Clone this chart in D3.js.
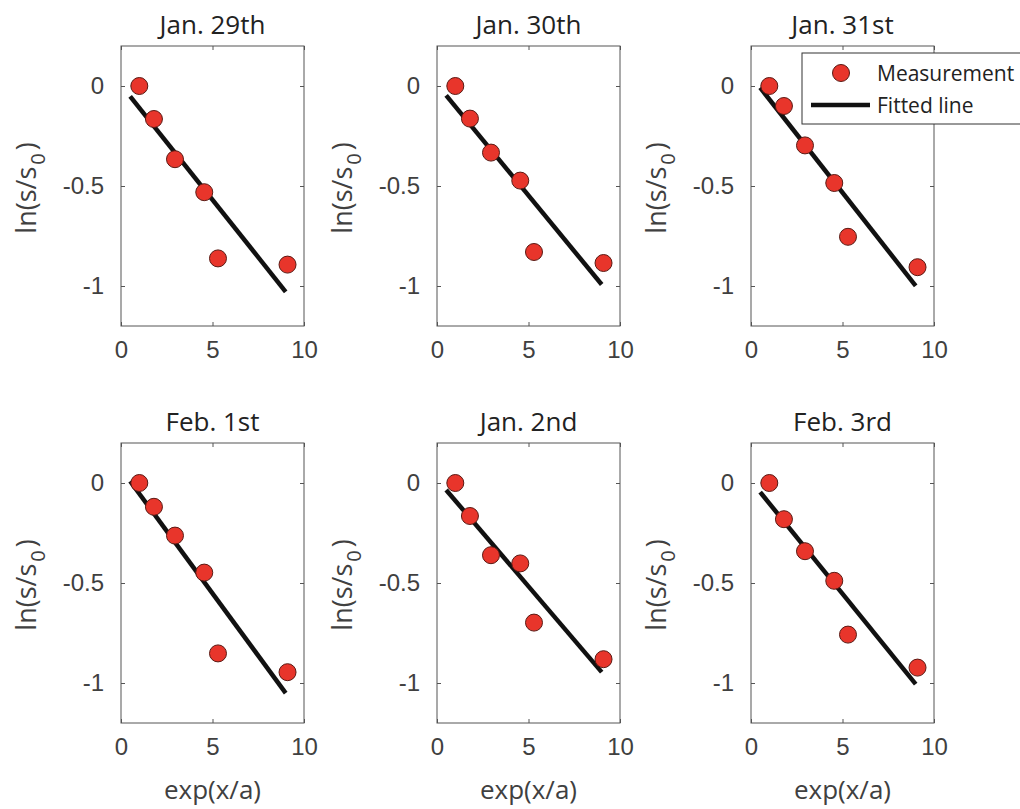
<!DOCTYPE html>
<html>
<head>
<meta charset="utf-8">
<title>ln(s/s0) vs exp(x/a)</title>
<script src="https://cdn.jsdelivr.net/npm/d3@7"></script>
<style>
body { margin: 0; background: #fff; }
svg { font-family: "Open Sans", sans-serif; }
.tick text { fill: #404040; font-size: 24px; }
.tick line { stroke: #555; }
</style>
</head>
<body>
<svg id="chart"></svg>
<script>
// panel titles (as printed)
var titles = ["Jan. 29th", "Jan. 30th", "Jan. 31st", "Feb. 1st", "Jan. 2nd", "Feb. 3rd"];

// measurement x positions, exp(x/a), same for every day
var xMeas = [1.0, 1.8, 2.95, 4.55, 5.3, 9.1];

// measured ln(s/s0), one row per panel
var yMeas = [
	[0, -0.165, -0.366, -0.531, -0.862, -0.893],
	[0, -0.163, -0.333, -0.473, -0.830, -0.885],
	[0, -0.100, -0.297, -0.485, -0.754, -0.906],
	[0, -0.119, -0.263, -0.448, -0.852, -0.946],
	[0, -0.165, -0.361, -0.402, -0.698, -0.881],
	[0, -0.181, -0.341, -0.489, -0.758, -0.923]
];

// fitted lines y = a*x + b
var fitSlope = [-0.1150, -0.1113, -0.1166, -0.1246, -0.1072, -0.1130];
var fitIntercept = [0.006, 0.009, 0.050, 0.071, 0.019, 0.011];
var fitRange = [0.5, 9.0];

var xTicks = [0, 5, 10];
var yTicks = [0, -0.5, -1];

var w = 1020, h = 809;
var boxW = 183, boxH = 280;
var colX = [121, 437, 751];
var rowY = [46, 443];

var svg = d3.select("#chart").attr("width", w).attr("height", h);

var x = d3.scaleLinear().domain([0, 10]).range([0, boxW]);
var y = d3.scaleLinear().domain([-1.2, 0.2]).range([boxH, 0]);

// plain hyphen minus like the original figure
var fmt = function(d) { return String(d); };

titles.forEach(function(title, i) {
	var col = i % 3, row = Math.floor(i / 3);
	var g = svg.append("g")
		.attr("transform", "translate(" + colX[col] + "," + rowY[row] + ")");

	// axes, ticks pointing inward
	g.append("g")
		.call(d3.axisLeft(y).tickValues(yTicks).tickSize(-4).tickPadding(17).tickFormat(fmt));
	g.append("g").attr("transform", "translate(" + boxW + ",0)")
		.call(d3.axisRight(y).tickValues(yTicks).tickSize(-4).tickFormat(""));
	g.append("g").attr("transform", "translate(0," + boxH + ")")
		.call(d3.axisBottom(x).tickValues(xTicks).tickSize(-4).tickPadding(15).tickFormat(fmt));
	g.append("g")
		.call(d3.axisTop(x).tickValues(xTicks).tickSize(-4).tickFormat(""));
	g.selectAll(".domain").remove();
	g.selectAll(".tick text").attr("font-family", null).attr("font-size", null);

	g.append("rect")
		.attr("width", boxW).attr("height", boxH)
		.attr("fill", "none").attr("stroke", "#555").attr("stroke-width", 1);

	// fitted line
	var line = d3.line()
		.x(function(d) { return x(d); })
		.y(function(d) { return y(fitSlope[i] * d + fitIntercept[i]); });
	g.append("path")
		.attr("d", line(fitRange))
		.attr("fill", "none").attr("stroke", "#111").attr("stroke-width", 4.5);

	// measurements
	g.selectAll(".pt")
		.data(xMeas)
		.enter().append("circle")
		.attr("class", "pt")
		.attr("cx", function(d) { return x(d); })
		.attr("cy", function(d, j) { return y(yMeas[i][j]); })
		.attr("r", 8.5)
		.attr("fill", "#e8352b").attr("stroke", "#5a1a14").attr("stroke-width", 1);

	// title
	g.append("text")
		.attr("x", boxW / 2).attr("y", -12)
		.attr("text-anchor", "middle")
		.attr("font-size", 26).attr("fill", "#222")
		.text(title);

	// y label
	var yl = g.append("text")
		.attr("transform", "translate(-85," + (boxH / 2 + 2) + ") rotate(-90)")
		.attr("text-anchor", "middle")
		.attr("font-size", 27).attr("fill", "#404040");
	yl.append("tspan").text("ln(s/s");
	yl.append("tspan").attr("font-size", 20).attr("dx", 2).attr("dy", 9).text("0");
	yl.append("tspan").attr("dx", 3).attr("dy", -9).text(")");

	// x label, bottom row only
	if (row == 1) {
		g.append("text")
			.attr("x", boxW / 2).attr("y", boxH + 76)
			.attr("text-anchor", "middle")
			.attr("font-size", 26).attr("fill", "#404040")
			.text("exp(x/a)");
	}
});

// legend (runs off the right edge, as in the figure)
var lg = svg.append("g").attr("transform", "translate(802,53)");
lg.append("rect")
	.attr("width", 240).attr("height", 71)
	.attr("fill", "#fff").attr("stroke", "#333").attr("stroke-width", 1);
lg.append("circle")
	.attr("cx", 39).attr("cy", 20).attr("r", 8.5)
	.attr("fill", "#e8352b").attr("stroke", "#5a1a14").attr("stroke-width", 1);
lg.append("text").attr("x", 75).attr("y", 28)
	.attr("font-size", 21).attr("fill", "#222").text("Measurement");
lg.append("line")
	.attr("x1", 9).attr("x2", 68).attr("y1", 52).attr("y2", 52)
	.attr("stroke", "#111").attr("stroke-width", 4.5);
lg.append("text").attr("x", 75).attr("y", 60)
	.attr("font-size", 21).attr("fill", "#222").text("Fitted line");
</script>
</body>
</html>
